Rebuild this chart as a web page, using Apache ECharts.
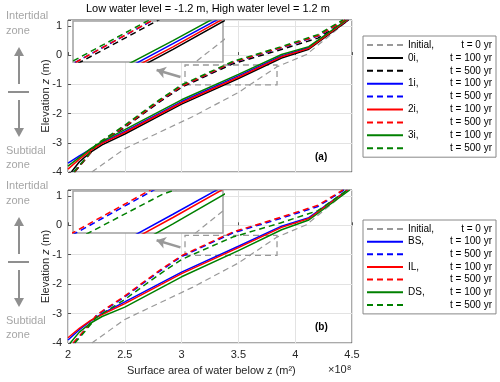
<!DOCTYPE html>
<html>
<head>
<meta charset="utf-8" />
<script src="https://cdn.jsdelivr.net/npm/echarts/dist/echarts.min.js"></script>
<style>
    html, body { margin: 0; padding: 0; background: #fff; }
    #main { width: 500px; height: 382px; }
</style>
</head>
<body>
<div id="main"></div>
<script>
    // x in units of 1e8 m^2, y = elevation z (m)
    var initial = [[2.21,-4],[2.5,-3.2],[3.1,-2.1],[3.5,-1.28],[3.84,-0.4],[4.1,0.02],[4.47,1.2]]

    // panel (a)
    var a0i_100 = [[2.03,-4],[2.1,-3.65],[2.2,-3.32],[2.3,-3.07],[2.5,-2.7],[3.0,-1.68],[3.5,-0.8],[3.88,-0.1],[4.12,0.2],[4.47,1.2]]
    var a0i_500 = [[2.06,-4],[2.15,-3.58],[2.25,-3.1],[2.5,-2.47],[2.8,-1.62],[3.0,-1.1],[3.45,-0.3],[3.87,0.18],[4.2,0.58],[4.46,1.2]]
    var a1i_100 = [[2.0,-3.7],[2.1,-3.45],[2.2,-3.22],[2.3,-3.0],[2.5,-2.61],[3.0,-1.59],[3.5,-0.71],[3.88,-0.03],[4.12,0.26],[4.46,1.2]]
    var a1i_500 = [[2.05,-4],[2.15,-3.56],[2.25,-3.07],[2.5,-2.43],[2.8,-1.58],[3.0,-1.06],[3.45,-0.255],[3.87,0.24],[4.2,0.65],[4.44,1.2]]
    var a2i_100 = [[2.0,-3.9],[2.1,-3.56],[2.2,-3.26],[2.3,-3.02],[2.5,-2.65],[3.0,-1.63],[3.5,-0.76],[3.88,-0.06],[4.12,0.23],[4.46,1.2]]
    var a2i_500 = [[2.055,-4],[2.15,-3.57],[2.25,-3.08],[2.5,-2.44],[2.8,-1.58],[3.0,-1.065],[3.45,-0.25],[3.87,0.25],[4.2,0.66],[4.44,1.2]]
    var a3i_100 = [[2.0,-3.8],[2.1,-3.5],[2.2,-3.2],[2.3,-2.95],[2.5,-2.55],[3.0,-1.53],[3.5,-0.66],[3.88,0.02],[4.12,0.29],[4.45,1.2]]
    var a3i_500 = [[2.05,-4],[2.15,-3.55],[2.25,-3.05],[2.5,-2.4],[2.8,-1.54],[3.0,-1.02],[3.45,-0.22],[3.87,0.28],[4.2,0.7],[4.42,1.2]]

    // panel (b)
    var bBS_100 = [[2.0,-3.9],[2.1,-3.55],[2.2,-3.25],[2.3,-3.0],[2.5,-2.6],[3.0,-1.59],[3.5,-0.71],[3.88,-0.03],[4.12,0.26],[4.46,1.2]]
    var bBS_500 = [[2.05,-4],[2.15,-3.56],[2.25,-3.07],[2.5,-2.43],[2.8,-1.58],[3.0,-1.06],[3.45,-0.26],[3.87,0.23],[4.2,0.64],[4.43,1.2]]
    var bIL_100 = [[2.0,-3.82],[2.1,-3.5],[2.2,-3.23],[2.3,-3.03],[2.5,-2.66],[3.0,-1.64],[3.5,-0.76],[3.88,-0.07],[4.12,0.23],[4.46,1.2]]
    var bIL_500 = [[2.045,-4],[2.15,-3.55],[2.25,-3.05],[2.5,-2.4],[2.8,-1.55],[3.0,-1.03],[3.45,-0.23],[3.87,0.27],[4.2,0.68],[4.42,1.2]]
    var bDS_100 = [[2.02,-4],[2.1,-3.63],[2.2,-3.32],[2.3,-3.1],[2.5,-2.78],[3.0,-1.75],[3.5,-0.86],[3.88,-0.15],[4.12,0.18],[4.48,1.2]]
    var bDS_500 = [[2.06,-4],[2.15,-3.6],[2.25,-3.13],[2.5,-2.52],[2.8,-1.68],[3.0,-1.16],[3.45,-0.4],[3.87,0.08],[4.2,0.5],[4.46,1.2]]

    // dashed box drawn in the main axes, window shown in the insets, grey arrow
    var boxX = [3.03, 3.84]
    var boxY = [-1.02, -0.34]
    var insetXRange = [3.02, 3.74]
    var insetYRange = [-1.0, -0.35]
    var arrowFrom = [2.99, -0.75]
    var arrowTo = [2.78, -0.51]

    var FONT = "'Liberation Sans', Arial, sans-serif"
    var BLACK = '#000', BLUE = '#0000ff', RED = '#ff0000', GREEN = '#008000', GRAY = '#999999'

    var seriesA = [
        ['Initial', initial, GRAY, 'init'],
        ['0i, 100', a0i_100, BLACK, 'solid'],
        ['0i, 500', a0i_500, BLACK, 'dash'],
        ['1i, 100', a1i_100, BLUE, 'solid'],
        ['1i, 500', a1i_500, BLUE, 'dash'],
        ['2i, 100', a2i_100, RED, 'solid'],
        ['2i, 500', a2i_500, RED, 'dash'],
        ['3i, 100', a3i_100, GREEN, 'solid'],
        ['3i, 500', a3i_500, GREEN, 'dash']
    ]
    var seriesB = [
        ['Initial', initial, GRAY, 'init'],
        ['BS, 100', bBS_100, BLUE, 'solid'],
        ['BS, 500', bBS_500, BLUE, 'dash'],
        ['IL, 100', bIL_100, RED, 'solid'],
        ['IL, 500', bIL_500, RED, 'dash'],
        ['DS, 100', bDS_100, GREEN, 'solid'],
        ['DS, 500', bDS_500, GREEN, 'dash']
    ]

    function lineSeries(s, axisIdx, z) {
        var st = s[3]
        return {
            name: s[0],
            type: 'line',
            xAxisIndex: axisIdx,
            yAxisIndex: axisIdx,
            data: s[1],
            symbol: 'none',
            z: z,
            silent: true,
            lineStyle: {
                color: s[2],
                width: st === 'init' ? 1.2 : 1.5,
                type: st === 'solid' ? 'solid' : [6, 4]
            },
            itemStyle: { color: s[2] }
        }
    }

    function helperSeries(axisIdx) {
        // dashed zoom box + grey arrow (annotations in data coords)
        return {
            type: 'line',
            xAxisIndex: axisIdx,
            yAxisIndex: axisIdx,
            data: [],
            silent: true,
            markArea: {
                silent: true,
                itemStyle: { color: 'rgba(0,0,0,0)', borderColor: GRAY, borderWidth: 1.3, borderType: [6, 4] },
                data: [[{ coord: [boxX[0], boxY[0]] }, { coord: [boxX[1], boxY[1]] }]]
            },
            markLine: {
                silent: true,
                symbol: ['none', 'arrow'],
                symbolSize: 9,
                label: { show: false },
                lineStyle: { color: GRAY, width: 2.5, type: 'solid' },
                data: [[{ coord: arrowFrom }, { coord: arrowTo }]]
            }
        }
    }

    function mainX(grid, labels) {
        return {
            gridIndex: grid, type: 'value', min: 2, max: 4.5, interval: 0.5,
            axisLine: { show: false },
            axisTick: { show: true, inside: true, length: 3, lineStyle: { color: '#555' } },
            axisLabel: { show: labels, color: '#262626', fontSize: 11, fontFamily: FONT, margin: 6 },
            splitLine: { show: true, lineStyle: { color: '#e3e3e3' } }
        }
    }
    function mainY(grid) {
        return {
            gridIndex: grid, type: 'value', min: -4, max: 1.2, interval: 1,
            name: 'Elevation {i|z} (m)', nameLocation: 'middle', nameGap: 17, nameMoveOverlap: false,
            nameTextStyle: { color: '#262626', fontSize: 11, fontFamily: FONT, rich: { i: { fontStyle: 'italic', fontSize: 11, fontFamily: FONT } } },
            axisLine: { show: false },
            axisTick: { show: true, inside: true, length: 3, lineStyle: { color: '#555' } },
            axisLabel: {
                color: '#262626', fontSize: 11, fontFamily: FONT, margin: 6,
                formatter: function (v) { return Math.abs(v - Math.round(v)) < 1e-6 ? String(Math.round(v)) : '' }
            },
            splitLine: { show: true, lineStyle: { color: '#e3e3e3' } }
        }
    }
    function insetX(grid) {
        return { gridIndex: grid, type: 'value', min: insetXRange[0], max: insetXRange[1], show: false }
    }
    function insetY(grid) {
        return { gridIndex: grid, type: 'value', min: insetYRange[0], max: insetYRange[1], show: false }
    }

    function legendFmt(name) {
        if (name === 'Initial') return '{a|Initial,}{b|t = 0 yr}'
        var p = name.split(', ')
        if (p[1] === '100') return '{a|' + p[0] + ',}{b|t = 100 yr}'
        return '{a|}{b|t = 500 yr}'
    }
    function legend(top, names, gap) {
        return {
            orient: 'vertical', left: 363, top: top,
            data: names, selectedMode: false,
            itemWidth: 36, itemHeight: 10, itemGap: gap,
            padding: [4, 4, 4, 3],
            borderColor: '#888', borderWidth: 1, backgroundColor: '#fff',
            itemStyle: { opacity: 0 },
            formatter: legendFmt,
            textStyle: {
                fontFamily: FONT, fontSize: 10, color: '#000',
                rich: {
                    a: { width: 40, fontSize: 10, fontFamily: FONT, lineHeight: 11 },
                    b: { width: 44, align: 'right', fontSize: 10, fontFamily: FONT, lineHeight: 11 }
                }
            }
        }
    }

    function sideNote(dy) {
        var c = '#a6a6a6', ac = '#8f8f8f'
        return [
            { type: 'text', left: 6, top: 10 + dy, style: { text: 'Intertidal', fill: c, font: '11px ' + FONT } },
            { type: 'text', left: 6, top: 25 + dy, style: { text: 'zone', fill: c, font: '11px ' + FONT } },
            { type: 'line', shape: { x1: 19, y1: 84 + dy, x2: 19, y2: 54 + dy }, style: { stroke: ac, lineWidth: 2 } },
            { type: 'polygon', shape: { points: [[14, 56 + dy], [24, 56 + dy], [19, 47 + dy]] }, style: { fill: ac } },
            { type: 'line', shape: { x1: 8, y1: 92 + dy, x2: 29, y2: 92 + dy }, style: { stroke: ac, lineWidth: 2 } },
            { type: 'line', shape: { x1: 19, y1: 100 + dy, x2: 19, y2: 129 + dy }, style: { stroke: ac, lineWidth: 2 } },
            { type: 'polygon', shape: { points: [[14, 128 + dy], [24, 128 + dy], [19, 137 + dy]] }, style: { fill: ac } },
            { type: 'text', left: 6, top: 145 + dy, style: { text: 'Subtidal', fill: c, font: '11px ' + FONT } },
            { type: 'text', left: 6, top: 159 + dy, style: { text: 'zone', fill: c, font: '11px ' + FONT } }
        ]
    }

    var series = []
    seriesA.forEach(function (s) { series.push(lineSeries(s, 0, 2)) })
    series.push(helperSeries(0))
    seriesA.forEach(function (s) { series.push(lineSeries(s, 1, 6)) })
    seriesB.forEach(function (s) { series.push(lineSeries(s, 2, 2)) })
    series.push(helperSeries(2))
    seriesB.forEach(function (s) { series.push(lineSeries(s, 3, 6)) })

    var option = {
        animation: false,
        backgroundColor: '#fff',
        grid: [
            { left: 68, top: 20, width: 284, height: 152, show: true, borderColor: '#555', borderWidth: 1 },
            { left: 73, top: 21, width: 150, height: 41, show: true, backgroundColor: '#fff', borderColor: '#a0a0a0', borderWidth: 1.5, z: 5 },
            { left: 68, top: 190, width: 284, height: 153, show: true, borderColor: '#555', borderWidth: 1 },
            { left: 73, top: 191, width: 150, height: 42, show: true, backgroundColor: '#fff', borderColor: '#a0a0a0', borderWidth: 1.5, z: 5 }
        ],
        xAxis: [mainX(0, false), insetX(1), mainX(2, true), insetX(3)],
        yAxis: [mainY(0), insetY(1), mainY(2), insetY(3)],
        legend: [
            legend(36, seriesA.map(function (s) { return s[0] }), 2.9),
            legend(220, seriesB.map(function (s) { return s[0] }), 2.65)
        ],
        series: series,
        graphic: [
            { type: 'text', left: 86, top: 3, style: { text: 'Low water level = -1.2 m, High water level = 1.2 m', fill: '#000', font: '11px ' + FONT } },
            { type: 'text', left: 315, top: 152, style: { text: '(a)', fill: '#000', font: 'bold 10px ' + FONT } },
            { type: 'text', left: 315, top: 322, style: { text: '(b)', fill: '#000', font: 'bold 10px ' + FONT } },
            { type: 'text', left: 127, top: 365, style: { text: 'Surface area of water below z (m\u00b2)', fill: '#262626', font: '11px ' + FONT } },
            { type: 'text', left: 328, top: 364, style: { text: '\u00d710\u2078', fill: '#262626', font: '11px ' + FONT } }
        ].concat(sideNote(0)).concat(sideNote(170))
    }

    var chart = echarts.init(document.getElementById('main'))
    chart.setOption(option)
</script>
</body>
</html>
